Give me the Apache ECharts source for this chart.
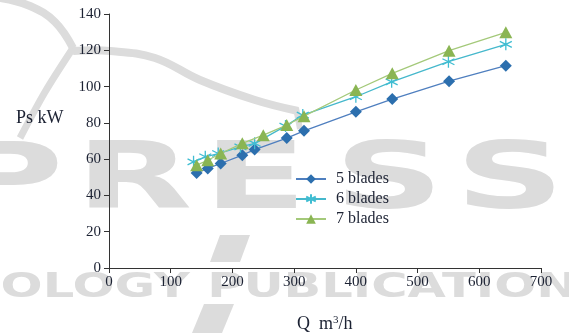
<!DOCTYPE html>
<html lang="en">
<head>
  <meta charset="UTF-8">
  <title>Ps vs Q</title>
  <script src="https://cdn.jsdelivr.net/npm/echarts@6/dist/echarts.min.js"></script>
</head>
<body style="margin:0">
  <div id="main" style="width:569px;height:333px;"></div>
  <script type="text/javascript">
    // flow Q (m3/h) and shaft power Ps (kW)
    const q5 = [142, 160, 181, 216, 236, 288, 316, 400, 459, 551, 643];
    const p5 = [52.4, 54.9, 57.6, 62.2, 65.3, 71.6, 75.6, 86.1, 93.1, 103.0, 111.5];
    const q6 = [137, 156, 177, 213, 236, 286, 314, 400, 458, 550, 643];
    const p6 = [58.5, 61.3, 63.1, 66.8, 68.7, 78.2, 84.3, 94.4, 102.6, 113.7, 123.3];
    const q7 = [142, 160, 181, 216, 250, 288, 316, 400, 459, 551, 643];
    const p7 = [56.7, 59.4, 63.1, 68.7, 73.2, 78.8, 83.7, 98.1, 107.3, 119.8, 129.9];
    const names = ['5 blades', '6 blades', '7 blades'];
    const xTicks = [0, 100, 200, 300, 400, 500, 600, 700];
    const yTicks = [0, 20, 40, 60, 80, 100, 120, 140];

    const pair = (xs, ys) => xs.map((x, i) => [x, ys[i]]);
    const serif = '"Liberation Serif", "DejaVu Serif", serif';
    const txt = '#1c2233';
    const wm = '#dcdcdc';
    const star = 'path://M0,-10L0,10M-8.7,-5L8.7,5M-8.7,5L8.7,-5M-1.5,0L1.5,0';

    // watermark letters: [letter, centre x]
    const wmLetters = [['P', 8], ['R', 134], ['E', 255], ['S', 389], ['S', 510]];

    let myChart = echarts.init(document.getElementById('main'));

    let watermark = wmLetters.map(([ch, cx]) => ({
      type: 'text', z: -10, silent: true, x: cx, y: 184, scaleX: 1.65,
      style: { text: ch, x: 0, y: 0, textAlign: 'center', textVerticalAlign: 'middle',
               fill: wm, font: 'bold 92px "DejaVu Sans"' }
    }));
    watermark.push(
      {
        type: 'text', z: -10, silent: true, x: 307, y: 288, scaleX: 1.5,
        style: { text: 'OLOGY PUBLICATIONS', x: 0, y: 0, textAlign: 'center', textVerticalAlign: 'middle',
                 fill: wm, font: 'bold 33px "DejaVu Sans"' }
      },
      {
        type: 'polygon', z: -10, silent: true,
        shape: { points: [[220, 235], [250, 235], [240, 262], [210, 262]] },
        style: { fill: wm }
      },
      {
        type: 'polygon', z: -10, silent: true,
        shape: { points: [[204, 304], [234, 304], [222, 333], [192, 333]] },
        style: { fill: wm }
      },
      {
        type: 'polyline', z: -10, silent: true,
        shape: { points: [[0, -2], [30, 6], [55, 22], [73, 48]], smooth: 0.4 },
        style: { stroke: wm, lineWidth: 8, fill: null }
      },
      {
        type: 'polyline', z: -10, silent: true,
        shape: { points: [[73, 48], [45, 92], [20, 138]], smooth: 0.3 },
        style: { stroke: wm, lineWidth: 7, fill: null }
      },
      {
        type: 'polyline', z: -10, silent: true,
        shape: { points: [[73, 51], [110, 51], [155, 58], [200, 80], [255, 100], [298, 111]], smooth: 0.4 },
        style: { stroke: wm, lineWidth: 8, fill: null }
      },
      {
        type: 'polyline', z: -10, silent: true,
        shape: { points: [[296, 108], [300, 129]] },
        style: { stroke: wm, lineWidth: 6, fill: null }
      }
    );

    let options = {
      animation: false,
      grid: { left: 109, right: 28, top: 14, bottom: 65 },
      xAxis: {
        type: 'value',
        min: xTicks[0], max: xTicks[xTicks.length - 1], interval: 100,
        splitLine: { show: false },
        axisLine: { lineStyle: { color: '#333', width: 1 } },
        axisTick: { length: 5, lineStyle: { color: '#333' } },
        axisLabel: { color: txt, fontFamily: serif, fontSize: 15, margin: 7 }
      },
      yAxis: {
        type: 'value',
        min: yTicks[0], max: yTicks[yTicks.length - 1], interval: 20,
        splitLine: { show: false },
        axisLine: { show: true, lineStyle: { color: '#333', width: 1 } },
        axisTick: { show: true, length: 5, lineStyle: { color: '#333' } },
        axisLabel: { color: txt, fontFamily: serif, fontSize: 15, margin: 8 }
      },
      legend: {
        orient: 'vertical',
        left: 290, top: 166,
        itemGap: 4,
        itemWidth: 30, itemHeight: 12,
        textStyle: { color: txt, fontFamily: serif, fontSize: 16, padding: [0, 0, 0, 5] },
        data: names
      },
      graphic: watermark.concat([
        {
          type: 'text', x: 16, y: 118,
          style: { text: 'Ps kW', x: 0, y: 0, textVerticalAlign: 'middle', fill: txt, font: '18px "Liberation Serif"' }
        },
        {
          type: 'text', x: 297, y: 324,
          style: {
            text: 'Q  m{s|3}/h', x: 0, y: 0, textVerticalAlign: 'middle',
            fill: txt, font: '18px "Liberation Serif"',
            rich: { s: { fontSize: 11, fontFamily: 'Liberation Serif', verticalAlign: 'top', fill: txt } }
          }
        }
      ]),
      series: [
        {
          name: names[0], type: 'line', z: 3,
          data: pair(q5, p5),
          symbol: 'diamond', symbolSize: 12,
          lineStyle: { color: '#4f7fbf', width: 1.3 },
          itemStyle: { color: '#2c6fae' }
        },
        {
          name: names[1], type: 'line', z: 4,
          data: pair(q6, p6),
          symbol: star, symbolSize: 12,
          lineStyle: { color: '#45b8cc', width: 1.3 },
          itemStyle: { color: '#3fbdd2', borderColor: '#3fbdd2', borderWidth: 1.3 }
        },
        {
          name: names[2], type: 'line', z: 5,
          data: pair(q7, p7),
          symbol: 'triangle', symbolSize: [13, 12],
          lineStyle: { color: '#a4c97a', width: 1.3 },
          itemStyle: { color: '#8ab553' }
        }
      ]
    };

    myChart.setOption(options);
  </script>
</body>
</html>
